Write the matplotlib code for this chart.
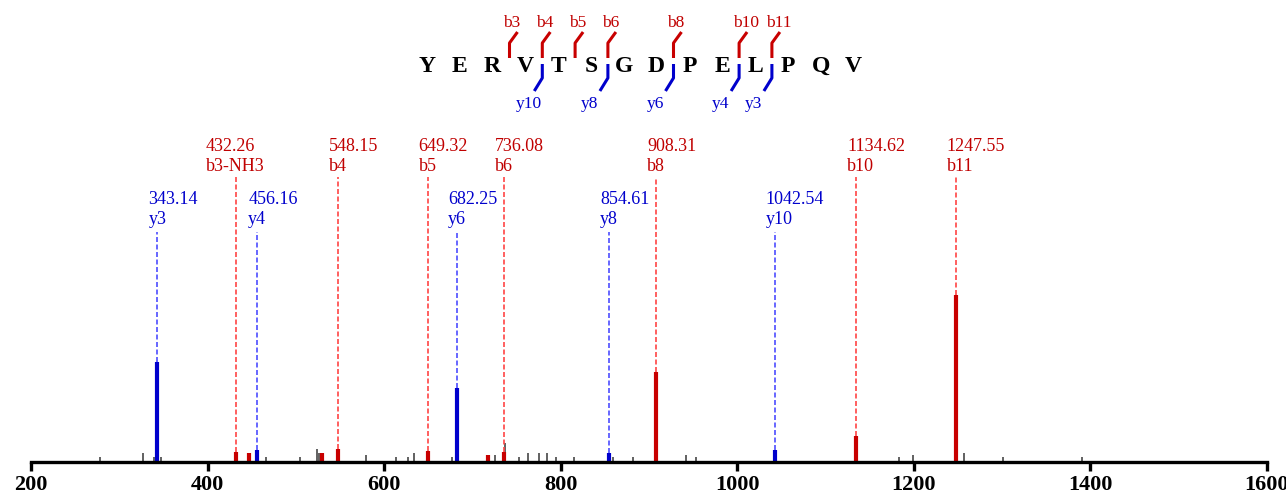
import matplotlib.pyplot as plt

plt.rcParams['font.family'] = ['Liberation Serif', 'DejaVu Serif']

# Data
sequence = ["Y", "E", "R", "V", "T", "S", "G", "D", "P", "E", "L", "P", "Q", "V"]

# b ions: (cleavage after residue, m/z, label, rel. intensity)
b_cleave = [3, 4, 5, 6, 8, 10, 11]
b_mz = [432.26, 548.15, 649.32, 736.08, 908.31, 1134.62, 1247.55]
b_names = ["b3-NH3", "b4", "b5", "b6", "b8", "b10", "b11"]
b_int = [6.0, 7.8, 6.6, 6.0, 53.9, 15.6, 100.0]

# y ions
y_cleave = [4, 6, 8, 10, 11]
y_mz = [343.14, 456.16, 682.25, 854.61, 1042.54]
y_names = ["y3", "y4", "y6", "y8", "y10"]
y_int = [59.9, 7.2, 44.3, 5.4, 7.2]
y_seq_names = ["y10", "y8", "y6", "y4", "y3"]
b_seq_names = ["b3", "b4", "b5", "b6", "b8", "b10", "b11"]

# unlabeled red peaks
red_mz = [447.0, 530.0, 717.6]
red_int = [5.4, 5.4, 4.2]

# unassigned peaks (gray)
gray_mz = [278, 327, 339, 347, 466, 505, 524, 526, 580, 613, 627, 634, 677,
           683.25, 726, 737, 753, 763, 775, 784, 795, 815, 859, 882, 909.31,
           942, 953, 1183, 1199, 1248.55, 1257, 1301, 1390]
gray_int = [3.0, 5.4, 3.0, 3.0, 3.0, 3.0, 7.8, 5.4, 4.2, 3.0, 3.0, 5.4, 3.0,
            14.4, 4.2, 11.4, 3.0, 5.4, 5.4, 5.4, 3.0, 3.0, 3.0, 3.0, 18.0,
            4.2, 3.0, 3.0, 4.2, 47.3, 5.4, 3.0, 3.0]

red_peak = '#c80000'
red_text = '#c00000'
red_dash = '#ff4444'
blue_peak = '#0000cc'
blue_text = '#0000cc'
blue_dash = '#4d4dff'

fig = plt.figure(figsize=(12.86, 5), dpi=100)
ax = fig.add_axes([31 / 1286, 38 / 500, 1236 / 1286, 462 / 500])
ax.set_xlim(200, 1600)
ax.set_ylim(0, 276.6)

# peaks
ax.vlines(gray_mz, 0, gray_int, color='#555555', lw=1.3)
ax.vlines(red_mz, 0, red_int, color=red_peak, lw=3)
ax.vlines(b_mz, 0, b_int, color=red_peak, lw=3)
ax.vlines(y_mz, 0, y_int, color=blue_peak, lw=3)

# labels + dashed guides
b_shift = {"b3-NH3": 34}
for mz, name, h in zip(b_mz, b_names, b_int):
    ax.vlines(mz, h, 170.7, color=red_dash, lw=1.2, linestyles=(0, (3, 1.5)))
    x0 = mz - b_shift.get(name, 10.2)
    ax.text(x0, 186.2, f"{mz:.2f}", color=red_text, fontsize=13, va='baseline')
    ax.text(x0, 174.3, name, color=red_text, fontsize=13, va='baseline')
for mz, name, h in zip(y_mz, y_names, y_int):
    ax.vlines(mz, h, 137.7, color=blue_dash, lw=1.2, linestyles=(0, (3, 1.5)))
    x0 = mz - 10.2
    ax.text(x0, 154.5, f"{mz:.2f}", color=blue_text, fontsize=13, va='baseline')
    ax.text(x0, 142.5, name, color=blue_text, fontsize=13, va='baseline')

for s in ['left', 'right', 'top']:
    ax.spines[s].set_visible(False)
ax.spines['bottom'].set_linewidth(2.4)
ax.set_yticks([])
ax.set_xticks(range(200, 1601, 200))
ax.tick_params(axis='x', length=6.5, width=2.4, pad=3)
for lab in ax.get_xticklabels():
    lab.set_fontsize(16)
    lab.set_fontweight('bold')

# sequence overlay (pixel coords)
ov = fig.add_axes([0, 0, 1, 1])
ov.set_xlim(0, 1286)
ov.set_ylim(500, 0)
ov.axis('off')
x_start, step = 427, 32.8
xs = [x_start + i * step for i in range(len(sequence))]
for x, aa in zip(xs, sequence):
    ov.text(x, 72, aa, fontsize=17, fontweight='bold', ha='center', va='baseline')

for c, name in zip(b_cleave, b_seq_names):
    xm = (xs[c - 1] + xs[c]) / 2 + 0.5
    ov.plot([xm, xm, xm + 8], [58, 43, 32], color=red_peak, lw=2.2,
            solid_capstyle='butt')
    ov.text(xm - 6, 27, name, color=red_text, fontsize=12.5, va='baseline')
for c, name in zip(y_cleave, y_seq_names):
    xm = (xs[c - 1] + xs[c]) / 2 + 0.5
    ov.plot([xm, xm, xm - 8], [64, 78, 91], color=blue_peak, lw=2.2,
            solid_capstyle='butt')
    ov.text(xm - 27, 108, name, color=blue_text, fontsize=12.5, va='baseline')

plt.savefig("out.png", dpi=100)
